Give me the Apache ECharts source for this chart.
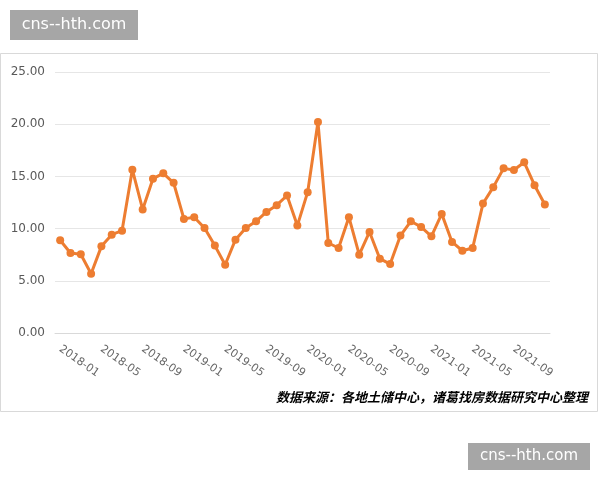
<!DOCTYPE html>
<html><head><meta charset="utf-8">
<script src="https://cdn.jsdelivr.net/npm/echarts@6/dist/echarts.min.js"></script>
<style>html,body{margin:0;padding:0;background:#fff}#c{width:600px;height:480px}</style>
</head><body><div id="c"></div>
<script>
const months = [];
for (let y = 2018; y <= 2021; y++) for (let m = 1; m <= 12; m++) months.push(y + '-' + String(m).padStart(2, '0'));
const values = [8.88, 7.66, 7.55, 5.67, 8.3, 9.42, 9.8, 15.64, 11.83, 14.78, 15.29, 14.39,
  10.93, 11.09, 10.06, 8.37, 6.54, 8.94, 10.06, 10.7, 11.6, 12.24, 13.17, 10.29,
  13.49, 20.22, 8.62, 8.14, 11.09, 7.5, 9.68, 7.12, 6.6, 9.33, 10.7, 10.16,
  9.26, 11.41, 8.72, 7.88, 8.14, 12.4, 13.97, 15.77, 15.61, 16.35, 14.16, 12.31];
const yTicks = [0, 5, 10, 15, 20, 25];
const sourceText = '数据来源：各地土储中心，诸葛找房数据研究中心整理';
const watermark = 'cns--hth.com';

const chart = echarts.init(document.getElementById('c'));
chart.setOption({
  animation: false,
  backgroundColor: '#fff',
  grid: { left: 55, right: 50, top: 72, bottom: 147 },
  xAxis: {
    type: 'category', data: months, boundaryGap: true,
    axisLine: { lineStyle: { color: '#d9d9d9' } },
    axisTick: { show: false },
    axisLabel: { interval: 3, rotate: -35, color: '#666', fontSize: 11, fontFamily: 'DejaVu Sans', margin: 15 }
  },
  yAxis: {
    type: 'value', min: yTicks[0], max: yTicks[yTicks.length - 1], interval: 5,
    axisLine: { show: false }, axisTick: { show: false },
    splitLine: { lineStyle: { color: '#e6e6e6' } },
    axisLabel: { color: '#595959', fontSize: 12, fontFamily: 'DejaVu Sans', margin: 10, formatter: v => v.toFixed(2) }
  },
  series: [{
    type: 'line', data: values, showAllSymbol: true,
    lineStyle: { color: '#ED7D31', width: 3 },
    itemStyle: { color: '#ED7D31' },
    symbol: 'circle', symbolSize: 8
  }],
  graphic: [
    { type: 'rect', shape: { x: 0.5, y: 53.5, width: 597, height: 358 }, style: { fill: 'none', stroke: '#d9d9d9', lineWidth: 1 } },
    { type: 'text', right: 12, top: 391, style: { text: sourceText, font: 'italic bold 13px "Noto Sans CJK SC"', fill: '#000' } },
    { type: 'rect', shape: { x: 10, y: 10, width: 128, height: 30 }, style: { fill: '#a6a6a6' } },
    { type: 'text', x: 74, y: 25, style: { text: watermark, font: '16px "DejaVu Sans"', fill: '#fff', align: 'center', verticalAlign: 'middle' } },
    { type: 'rect', shape: { x: 468, y: 443, width: 122, height: 27 }, style: { fill: '#a6a6a6' } },
    { type: 'text', x: 529, y: 456.5, style: { text: watermark, font: '15px "DejaVu Sans"', fill: '#fff', align: 'center', verticalAlign: 'middle' } }
  ]
});
</script></body></html>
